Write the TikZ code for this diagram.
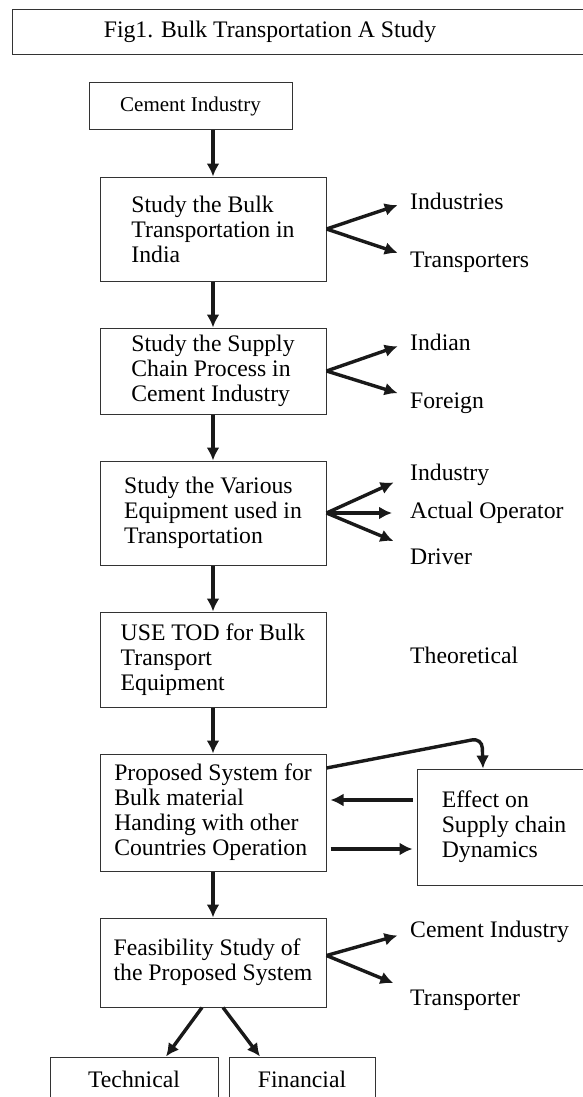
\documentclass[tikz,border=0pt]{standalone}
\usepackage{fontspec}
\setmainfont{Liberation Serif}
\usetikzlibrary{arrows.meta, positioning}

\begin{document}
\begin{tikzpicture}[x=1pt, y=-1pt,
        font=\fontsize{23.7}{25}\selectfont,
        box/.style={rectangle, draw=black!80, line width=1pt, align=left,
                    minimum width=226pt, inner sep=4pt},
        lbl/.style={anchor=west, inner sep=0pt},
        arr/.style={-{Latex[length=13pt, width=13pt]}, line width=3.4pt, draw=black!90},
        node distance=46pt]
      \useasboundingbox (0,0) rectangle (583,1097);
      % title frame
      \draw[draw=black!80, line width=1pt] (12,10) rectangle (600,55);
      \node (title) at (270,32) {Fig1. Bulk Transportation A Study};

      % main column
      \node[box, minimum width=203pt, minimum height=47pt, font=\fontsize{21}{25}\selectfont] (ci) at (190.5,106.5) {Cement Industry};
      \node[box, minimum height=104pt, below=of ci, xshift=22.5pt] (bulk)
           {Study the Bulk\\Transportation in\\India};
      \node[box, minimum height=86pt, below=of bulk] (supply)
           {Study the Supply\\Chain Process in\\Cement Industry};
      \node[box, minimum height=104pt, below=of supply] (equip)
           {Study the Various\\Equipment used in\\Transportation};
      \node[box, minimum height=95pt, below=of equip] (tod)
           {USE TOD for Bulk\\Transport\\Equipment};
      \node[box, minimum height=117pt, below=of tod] (prop)
           {Proposed System for\\Bulk material\\Handing with other\\Countries Operation};
      \node[box, minimum height=89pt, below=of prop] (feas)
           {Feasibility Study of\\the Proposed System};
      \node[box, minimum width=174pt, minimum height=116pt, right=90pt of prop, yshift=-14.5pt] (eff)
           {Effect on\\Supply chain\\Dynamics};
      \node[box, minimum width=168pt, minimum height=44pt] (tech) at (134,1079) {Technical};
      \node[box, minimum width=146pt, minimum height=44pt] (fin) at (302,1079) {Financial};

      % side labels
      \node[lbl] (inds) at (410,201) {Industries};
      \node[lbl] (trs) at (410,262) {Transporters};
      \node[lbl] (indian) at (410,342) {Indian};
      \node[lbl] (foreign) at (410,403) {Foreign};
      \node[lbl] (indy) at (410,475) {Industry};
      \node[lbl] (oper) at (410,513) {Actual Operator};
      \node[lbl] (drv) at (410,557) {Driver};
      \node[lbl] (theo) at (410,655) {Theoretical};
      \node[lbl] (cind) at (410,932) {Cement Industry};
      \node[lbl] (tr) at (410,1000) {Transporter};
      \coordinate (bend) at (482,738);

      % connectors
      \draw[arr] (ci.south -| bulk.north) -- (bulk.north);
      \draw[arr] (bulk) -- (supply);
      \draw[arr] (supply) -- (equip);
      \draw[arr] (equip) -- (tod);
      \draw[arr] (tod) -- (prop);
      \draw[arr] (prop) -- (feas);
      \draw[arr, shorten >=13pt] (bulk.east) -- (inds.west);
      \draw[arr, shorten >=13pt] (bulk.east) -- ([yshift=5pt]trs.west);
      \draw[arr, shorten >=13pt] (supply.east) -- (indian.west);
      \draw[arr, shorten >=13pt] (supply.east) -- ([yshift=6pt]foreign.west);
      \draw[arr, shorten >=18pt] (equip.east) -- (indy.west);
      \draw[arr, shorten >=18pt] (equip.east) -- (oper.west);
      \draw[arr, shorten >=18pt] (equip.east) -- ([yshift=9pt]drv.west);
      \draw[arr, shorten >=13pt] ([yshift=7pt]feas.east) -- (cind.west);
      \draw[arr, shorten >=18pt] ([yshift=7pt]feas.east) -- ([yshift=10pt]tr.west);
      \draw[arr, rounded corners=10pt] ([yshift=44.5pt]prop.east) -- (bend) -- ([xshift=-21pt]eff.north);
      \draw[arr, shorten <=4pt, shorten >=4pt] ([yshift=27pt]eff.west) -- ([yshift=27pt]eff.west -| prop.east);
      \draw[arr, shorten <=4pt, shorten >=4pt] ([yshift=-22pt]eff.west -| prop.east) -- ([yshift=-22pt]eff.west);
      \draw[arr] ([xshift=-11pt]feas.south) -- ([xshift=32pt]tech.north);
      \draw[arr] ([xshift=10pt]feas.south) -- ([xshift=-42pt]fin.north);
    \end{tikzpicture}
\end{document}
